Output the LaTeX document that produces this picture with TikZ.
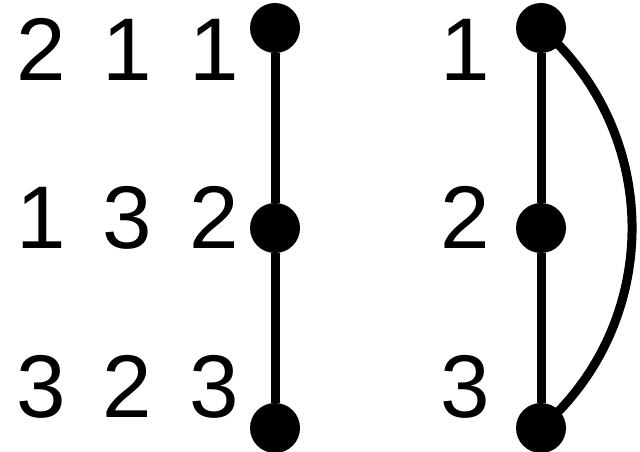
\documentclass[tikz,border=0pt]{standalone}
\usepackage{fontspec}
\setmainfont{Liberation Sans}
\begin{document}
\begin{tikzpicture}[x=1pt,y=1pt,
  dot/.style={circle,fill=black,inner sep=0pt,minimum size=50pt},
  num/.style={anchor=base,inner sep=0pt,font=\fontsize{89}{89}\selectfont},
  edge/.style={line width=9pt}]
\useasboundingbox (0,0) rectangle (640,-452);
% left graph
\node[dot] (a1) at (275,-28) {};
\node[dot] (a2) at (275,-228) {};
\node[dot] (a3) at (275,-428) {};
% right graph
\node[dot] (b1) at (541,-28) {};
\node[dot] (b2) at (541,-228) {};
\node[dot] (b3) at (541,-428) {};
% labels left
\node[num] (l11) at (41,-81) {2};
\node[num] (l12) at (127,-81) {1};
\node[num] (l13) at (214,-81) {1};
\node[num] (l21) at (41,-248) {1};
\node[num] (l22) at (127,-248) {3};
\node[num] (l23) at (214,-248) {2};
\node[num] (l31) at (41,-417) {3};
\node[num] (l32) at (127,-417) {2};
\node[num] (l33) at (214,-417) {3};
% labels right
\node[num] (r1) at (465,-81) {1};
\node[num] (r2) at (465,-248) {2};
\node[num] (r3) at (465,-417) {3};
% edges
\draw[edge] (a1) -- (a2);
\draw[edge] (a2) -- (a3);
\draw[edge] (b1) -- (b2);
\draw[edge] (b2) -- (b3);
\draw[edge] (b1.center) .. controls (662.4,-133.6) and (662.4,-322.4) .. (b3.center);
\end{tikzpicture}
\end{document}
